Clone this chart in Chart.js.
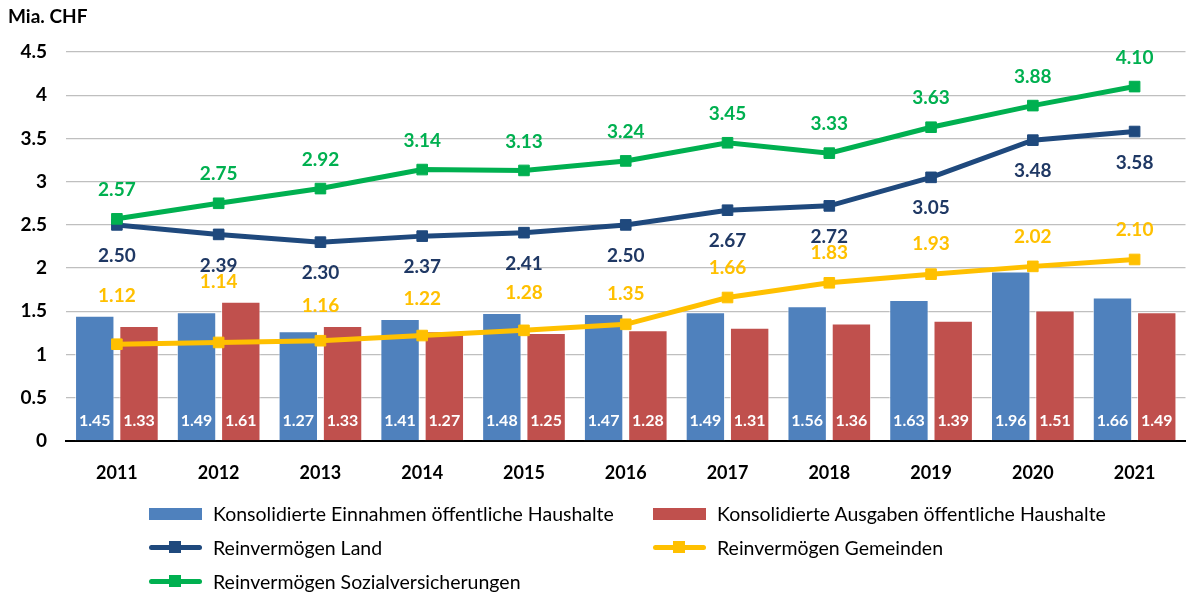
<!DOCTYPE html>
<html lang="de">
<head>
<meta charset="UTF-8">
<title>Konsolidierte Haushalte und Reinvermögen</title>
<script src="https://cdn.jsdelivr.net/npm/chart.js"></script>
<style>
    body { margin: 0; background: #fff; font-family: 'Lato', sans-serif; }
    .wrap { position: relative; width: 1194px; height: 592px; }
    .unit { position: absolute; left: 8px; top: 4px; font-weight: bold; font-size: 19px; color: #000; }
    .legend { position: absolute; left: 148px; top: 501px; display: grid;
              grid-template-columns: 504px 480px; row-gap: 9px; font-size: 19.5px; color: #000; }
    .legend .item { display: flex; align-items: center; height: 25px; }
    .legend .box { width: 53px; height: 12px; margin-right: 11px; margin-left: 1px; }
    .legend .line { position: relative; width: 53px; height: 5px; border-radius: 3px; margin-right: 11px; margin-left: 1px; }
    .legend .line::after { content: ''; position: absolute; left: 20px; top: -4px; width: 12px; height: 12px; background: inherit; }
</style>
</head>
<body>
<div class="wrap">
    <canvas id="chart" width="1194" height="592"></canvas>
    <div class="unit">Mia. CHF</div>
    <div class="legend" id="legend"></div>
</div>
<script>
// Jahre und Werte (Mia. CHF)
const years = ['2011', '2012', '2013', '2014', '2015', '2016', '2017', '2018', '2019', '2020', '2021'];
const einnahmen = [1.45, 1.49, 1.27, 1.41, 1.48, 1.47, 1.49, 1.56, 1.63, 1.96, 1.66];
const ausgaben = [1.33, 1.61, 1.33, 1.27, 1.25, 1.28, 1.31, 1.36, 1.39, 1.51, 1.49];
const reinLand = [2.50, 2.39, 2.30, 2.37, 2.41, 2.50, 2.67, 2.72, 3.05, 3.48, 3.58];
const reinGemeinden = [1.12, 1.14, 1.16, 1.22, 1.28, 1.35, 1.66, 1.83, 1.93, 2.02, 2.10];
const reinSozial = [2.57, 2.75, 2.92, 3.14, 3.13, 3.24, 3.45, 3.33, 3.63, 3.88, 4.10];
const yTicks = [0, 0.5, 1, 1.5, 2, 2.5, 3, 3.5, 4, 4.5];

const FONT = 'Lato';

function lineSet(label, data, color, order, labelPos) {
    return {
        type: 'line', label, data, order, labelPos,
        borderColor: color, backgroundColor: color,
        borderWidth: 5, tension: 0,
        pointStyle: 'rect', pointRadius: 7.5, pointBorderWidth: 1,
        pointBackgroundColor: color, pointBorderColor: color,
        labelColor: color
    };
}

// Wertebeschriftungen: Balken innen unten, Linien ober-/unterhalb
const valueLabels = {
    id: 'valueLabels',
    afterDatasetsDraw(chart) {
        const ctx = chart.ctx;
        const y = chart.scales.y;
        ctx.save();
        ctx.textAlign = 'center';
        ctx.textBaseline = 'middle';
        chart.data.datasets.forEach((ds, di) => {
            const meta = chart.getDatasetMeta(di);
            meta.data.forEach((el, i) => {
                const txt = ds.data[i].toFixed(2);
                let ty;
                if (ds.type === 'bar') {
                    ctx.font = `bold 16px ${FONT}`;
                    ctx.fillStyle = '#fff';
                    ty = y.bottom - 20;
                } else {
                    ctx.font = `bold 19px ${FONT}`;
                    ctx.fillStyle = ds.labelTextColor || ds.labelColor;
                    if (ds.labelPos === 'below') {
                        ty = el.y + 31;
                    } else if (ds.labelPos === 'aboveBars') {
                        // über dem höheren Balken bleiben
                        const barTop = y.getPixelForValue(Math.max(einnahmen[i], ausgaben[i]));
                        ty = Math.min(el.y - 30, barTop - 20);
                    } else {
                        ty = el.y - 29;
                    }
                }
                ctx.fillText(txt, el.x, ty);
            });
        });
        ctx.restore();
    }
};

const land = lineSet('Reinvermögen Land', reinLand, '#1F497D', 1, 'below');
land.labelTextColor = '#1F3864';

const chart = new Chart(document.getElementById('chart'), {
    data: {
        labels: years,
        datasets: [
            { type: 'bar', label: 'Konsolidierte Einnahmen öffentliche Haushalte', data: einnahmen,
              backgroundColor: '#4F81BD', borderColor: 'rgba(255,255,255,0.7)', borderWidth: 1, order: 3 },
            { type: 'bar', label: 'Konsolidierte Ausgaben öffentliche Haushalte', data: ausgaben,
              backgroundColor: '#C0504D', borderColor: 'rgba(255,255,255,0.7)', borderWidth: 1, order: 3 },
            land,
            lineSet('Reinvermögen Gemeinden', reinGemeinden, '#FFC000', 2, 'aboveBars'),
            lineSet('Reinvermögen Sozialversicherungen', reinSozial, '#00B050', 0, 'above')
        ]
    },
    options: {
        responsive: false,
        animation: false,
        datasets: { bar: { categoryPercentage: 0.87, barPercentage: 0.89 } },
        layout: { padding: { left: 6, right: 8, top: 52, bottom: 111 } },
        plugins: { legend: { display: false }, tooltip: { enabled: false } },
        scales: {
            x: {
                grid: { display: false },
                border: { color: '#000', width: 2 },
                ticks: { color: '#000', font: { family: FONT, size: 18, weight: 'bold' }, padding: 13 },
                afterFit(s) { s.height = 40; }
            },
            y: {
                min: 0, max: 4.5,
                afterBuildTicks(s) { s.ticks = yTicks.map(v => ({ value: v })); },
                grid: { color: '#BFBFBF', lineWidth: 1.3, drawTicks: false },
                border: { display: false },
                ticks: { color: '#000', font: { family: FONT, size: 19, weight: 'bold' }, padding: 19,
                         callback: v => String(v) },
                afterFit(s) { s.width = 60; }
            }
        }
    },
    plugins: [valueLabels]
});

// Legende in zwei Spalten
const legend = document.getElementById('legend');
chart.data.datasets.forEach(ds => {
    const item = document.createElement('div');
    item.className = 'item';
    const sym = document.createElement('span');
    sym.className = ds.type === 'bar' ? 'box' : 'line';
    sym.style.background = ds.backgroundColor;
    item.appendChild(sym);
    item.appendChild(document.createTextNode(ds.label));
    legend.appendChild(item);
});
</script>
</body>
</html>
